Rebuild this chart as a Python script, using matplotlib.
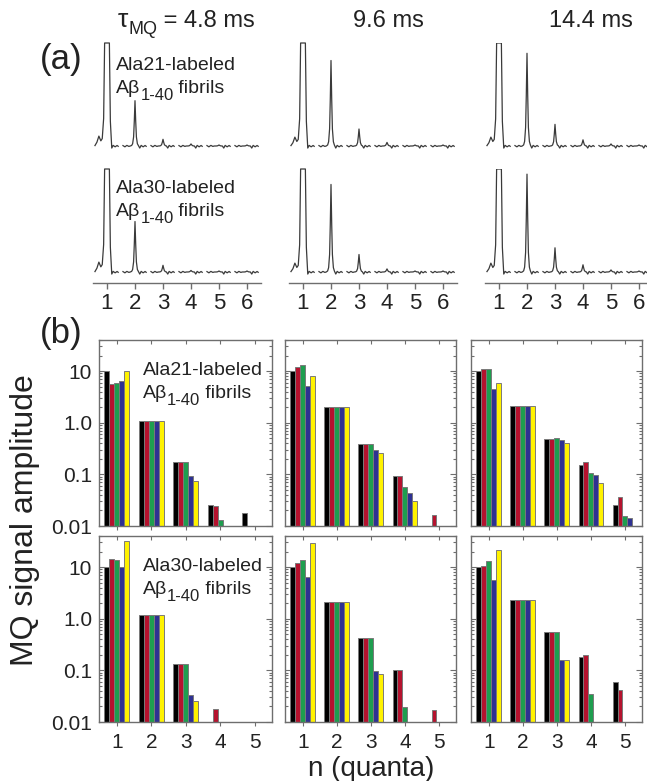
import numpy as np
import matplotlib
matplotlib.use("Agg")
import matplotlib.pyplot as plt
from matplotlib.ticker import FixedLocator, FixedFormatter, LogLocator, NullFormatter

plt.rcParams['font.family'] = ['Liberation Sans', 'DejaVu Sans']

# ---------------- data ----------------
tau_values = ["4.8 ms", "9.6 ms", "14.4 ms"]
sample_labels = ["Ala21-labeled", "Ala30-labeled"]

spec_orders = [1, 2, 3, 4, 5, 6]
# spectral peak heights (relative to the clipping level of each trace)
spec_ala21 = [[20, 0.44, 0.065, 0.02, 0.01, 0.01],
              [20, 0.83, 0.165, 0.035, 0.01, 0.01],
              [20, 0.90, 0.21, 0.06, 0.02, 0.01]]
spec_ala30 = [[20, 0.49, 0.065, 0.015, 0.01, 0.01],
              [20, 0.85, 0.17, 0.03, 0.01, 0.01],
              [20, 0.95, 0.235, 0.07, 0.02, 0.01]]
spec_prebump_ala21 = [0.09, 0.08, 0.08]
spec_prebump_ala30 = [0.09, 0.08, 0.08]

# line-shape template of one spectral window (offsets from n, relative heights)
seg_dx = [-0.43, -0.36, -0.29, -0.22, -0.17, -0.12, -0.085, -0.05, -0.025, 0.0,
          0.025, 0.05, 0.085, 0.12, 0.17, 0.22, 0.29, 0.36, 0.40]
seg_shape = [0, 0, 0, 0, 0.0, 0.012, 0.05, 0.2, 0.55, 1.0,
             0.55, 0.2, 0.05, 0.012, 0.0, 0, 0, 0, 0]
seg_wiggle = [0.004, -0.008, 0.006, -0.004, 0.0, 0.0, 0.0, 0.0, 0.0, 0.0,
              0.0, 0.0, 0.0, 0.0, -0.02, 0.006, -0.008, 0.005, -0.003]
pre_shape = [0.0, 0.5, 1.0, 0.6, 0.8, 0.3, 0, 0, 0, 0, 0, 0, 0, 0, 0, 0, 0, 0, 0]

quanta = [1, 2, 3, 4, 5]
bar_colors = ['#000000', '#B5122E', '#1E9E4F', '#2E3192', '#FFF200']
nan = np.nan
# series order: black, red, green, blue, yellow ; values for n = 1..5
bars_ala21_48 = [[10, 1.1, 0.176, 0.026, 0.018],
                 [5.6, 1.1, 0.176, 0.024, nan],
                 [5.8, 1.1, 0.176, 0.013, nan],
                 [6.4, 1.1, 0.094, nan, nan],
                 [10, 1.1, 0.074, nan, nan]]
bars_ala21_96 = [[10, 2.0, 0.39, 0.094, nan],
                 [11.8, 2.0, 0.39, 0.094, 0.016],
                 [12.9, 2.0, 0.39, 0.058, nan],
                 [5.1, 2.0, 0.30, 0.044, nan],
                 [8.1, 2.0, 0.26, 0.030, nan]]
bars_ala21_144 = [[10, 2.13, 0.49, 0.15, 0.026],
                  [10.9, 2.13, 0.49, 0.174, 0.036],
                  [10.9, 2.13, 0.50, 0.108, 0.0157],
                  [4.5, 2.13, 0.46, 0.096, 0.0146],
                  [5.9, 2.13, 0.41, 0.069, nan]]
bars_ala30_48 = [[10, 1.2, 0.135, nan, nan],
                 [14.1, 1.2, 0.135, 0.018, nan],
                 [13.5, 1.2, 0.135, nan, nan],
                 [10, 1.2, 0.034, nan, nan],
                 [32, 1.2, 0.025, nan, nan]]
bars_ala30_96 = [[10, 2.1, 0.42, 0.10, nan],
                 [11.8, 2.1, 0.42, 0.10, 0.017],
                 [14, 2.1, 0.42, 0.0196, nan],
                 [6.5, 2.1, 0.097, nan, nan],
                 [29, 2.1, 0.085, nan, nan]]
bars_ala30_144 = [[10, 2.3, 0.56, 0.18, 0.06],
                  [10.6, 2.3, 0.56, 0.20, 0.042],
                  [13.1, 2.3, 0.56, 0.035, nan],
                  [5.6, 2.3, 0.158, nan, nan],
                  [21.3, 2.3, 0.16, nan, nan]]

ytick_vals = [0.01, 0.1, 1.0, 10]
ytick_text = ["0.01", "0.1", "1.0", "10"]

# ---------------- layout ----------------
W, H = 647, 781
fig = plt.figure(figsize=(W / 100, H / 100), dpi=100)
renderer = fig.canvas.get_renderer()
TXT = '#222222'


def ax_px(x0, y0, x1, y1):
    return fig.add_axes([x0 / W, 1 - y1 / H, (x1 - x0) / W, (y1 - y0) / H])


def compose(x, y, pieces):
    """pieces: (text, fontsize, baseline shift in px downward)"""
    for s, fs, dy in pieces:
        t = fig.text(x / W, 1 - (y + dy) / H, s, fontsize=fs, ha='left',
                     va='baseline', color=TXT)
        x += t.get_window_extent(renderer).width


def fibril_label(x, y):
    compose(x, y, [("Aβ", 14, 0), ("1-40", 12, 7), (" fibrils", 14, 0)])


spec_cols = [(93, 261, 6.5), (289, 457, 6.5), (485, 647, 0.5 + 162 / 28)]
spec_rows = [(43, 155, 146), (169, 283, 272)]
spec_data = [spec_ala21, spec_ala30]
spec_pre = [spec_prebump_ala21, spec_prebump_ala30]
line_col = '#3a3a3a'
axis_gray = '#6e6e6e'

for r, (ytop, ybot, ybase) in enumerate(spec_rows):
    for c, (x0, x1, xr) in enumerate(spec_cols):
        ax = ax_px(x0, ytop, x1, ybot)
        scale = ybase - ytop
        ax.set_ylim(-(ybot - ybase) / scale, 1.0)
        ax.set_xlim(0.5, xr)
        heights = spec_data[r][c]
        for k, n in enumerate(spec_orders):
            xs = n + np.array(seg_dx)
            ys = heights[k] * np.array(seg_shape) + np.array(seg_wiggle)
            if k == 0:
                ys = ys + spec_pre[r][c] * np.array(pre_shape)
            ys = np.minimum(ys, 1.0)
            ax.plot(xs, ys, color=line_col, lw=0.9, clip_on=(c == 2))
        for s in ['top', 'right', 'left']:
            ax.spines[s].set_visible(False)
        ax.set_yticks([])
        ax.patch.set_alpha(0)
        if r == 0:
            ax.spines['bottom'].set_visible(False)
            ax.set_xticks([])
        else:
            ax.spines['bottom'].set_color(axis_gray)
            ax.spines['bottom'].set_linewidth(1.0)
            ax.set_xticks(spec_orders)
            ax.tick_params(axis='x', direction='out', length=4, width=1.0,
                           color=axis_gray, labelsize=16, pad=3, labelcolor=TXT)

# titles
compose(118, 27, [("τ", 19, 0), ("MQ", 13, 7), (" = " + tau_values[0], 17, 0)])
fig.text(388 / W, 1 - 27 / H, tau_values[1], fontsize=17, ha='center', va='baseline', color=TXT)
fig.text(591 / W, 1 - 27 / H, tau_values[2], fontsize=17, ha='center', va='baseline', color=TXT)

# spectra annotations
for r, yb in enumerate([70, 193]):
    compose(116, yb, [(sample_labels[r], 14, 0)])
    fibril_label(116, yb + 23)

fig.text(61 / W, 1 - 59 / H, "(a)", fontsize=25, ha='center', va='center', color=TXT)
fig.text(61 / W, 1 - 333 / H, "(b)", fontsize=25, ha='center', va='center', color=TXT)

# bar panels
bar_cols = [(99, 272), (285, 456), (471, 642)]
bar_rows = [(340, 526), (536, 722)]
bar_data = [[bars_ala21_48, bars_ala21_96, bars_ala21_144],
            [bars_ala30_48, bars_ala30_96, bars_ala30_144]]
ymin, ymax = 0.01, 40
bw = 0.145
for r, (ytop, ybot) in enumerate(bar_rows):
    for c, (x0, x1) in enumerate(bar_cols):
        ax = ax_px(x0, ytop, x1, ybot)
        ax.set_yscale('log')
        ax.set_ylim(ymin, ymax)
        ax.set_xlim(0.48, 5.5)
        series = bar_data[r][c]
        for s, vals in enumerate(series):
            v = np.array(vals, dtype=float)
            xs = np.array(quanta) + (s - 2) * bw
            ok = ~np.isnan(v)
            ax.bar(xs[ok], v[ok] - ymin, bottom=ymin, width=bw, color=bar_colors[s],
                   edgecolor='#7a7a7a', linewidth=0.7, zorder=2)
        for sp in ax.spines.values():
            sp.set_color(axis_gray)
            sp.set_linewidth(1.0)
        ax.yaxis.set_major_locator(FixedLocator(ytick_vals))
        ax.yaxis.set_minor_locator(LogLocator(base=10, subs=np.arange(2, 10)))
        ax.yaxis.set_minor_formatter(NullFormatter())
        ax.tick_params(axis='y', which='both', direction='in', left=True, right=True,
                       color=axis_gray, width=0.8)
        ax.tick_params(axis='y', which='major', length=4)
        ax.tick_params(axis='y', which='minor', length=2)
        if c == 0:
            ax.yaxis.set_major_formatter(FixedFormatter(ytick_text))
            ax.tick_params(axis='y', labelsize=15, pad=5, labelcolor=TXT)
        else:
            ax.yaxis.set_major_formatter(NullFormatter())
        ax.set_xticks(quanta)
        ax.tick_params(axis='x', which='both', bottom=True, top=False, direction='out',
                       length=3, color=axis_gray, width=0.8)
        if r == 1:
            ax.tick_params(axis='x', labelsize=15, pad=5, labelcolor=TXT)
        else:
            ax.set_xticklabels([])
        # top ticks point inward
        sec = ax.secondary_xaxis('top')
        sec.set_xticks(quanta)
        sec.set_xticklabels([])
        sec.tick_params(direction='in', length=3, color=axis_gray, width=0.8)
        sec.spines['top'].set_visible(False)
        if c == 0:
            yb = ytop + 35
            compose(143, yb, [(sample_labels[r], 14, 0)])
            fibril_label(143, yb + 23)

fig.text(25 / W, 1 - 520 / H, "MQ signal amplitude", rotation=90, fontsize=23,
         ha='center', va='center', color=TXT)
fig.text(371 / W, 1 - 769 / H, "n (quanta)", fontsize=20, ha='center', va='center', color=TXT)

fig.savefig("out.png", dpi=100)
